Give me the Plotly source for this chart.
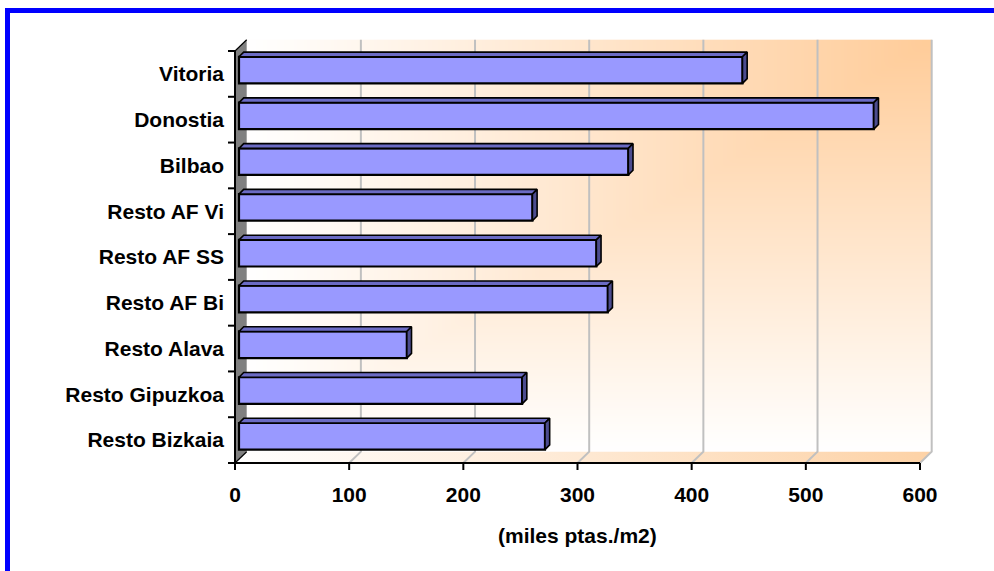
import numpy as np
import plotly.graph_objects as go

# --- data -------------------------------------------------------------
categorias = ["Vitoria", "Donostia", "Bilbao", "Resto AF Vi", "Resto AF SS",
              "Resto AF Bi", "Resto Alava", "Resto Gipuzkoa", "Resto Bizkaia"]
precios = [441, 556, 341, 257, 313, 323, 147, 248, 268]
x_ticks = [0, 100, 200, 300, 400, 500, 600]
titulo_x = "(miles ptas./m2)"

# --- geometry (pixels of the 994x571 canvas) ---------------------------
W_PX, H_PX = 994, 571
L, R, T, B = 226, 945, 30, 472          # plot area
X0_PX, X600_PX = 235, 920               # front axis: value 0 and 600
Y_BOT_PX, Y_TOP_PX = 463, 51            # front edge of category bands
n = len(categorias)
sx = (X600_PX - X0_PX) / 600.0          # px per value unit
sy = (Y_BOT_PX - Y_TOP_PX) / n          # px per category unit

x_range = [(L - X0_PX) / sx, (R - X0_PX) / sx]
y_range = [-0.5 - (B - Y_BOT_PX) / sy, -0.5 + (Y_BOT_PX - T) / sy]
x_dom = [L / W_PX, R / W_PX]
y_dom = [(H_PX - B) / H_PX, (H_PX - T) / H_PX]

# oblique depth of the 3-D box
DX, DY = 11.7 / sx, 11.3 / sy
# bars: front face offset and box depth
FX = 4.0 / sx
FY = 3.8 / sy
HALF = 13.3 / sy
BDX, BDY = 4.7 / sx, 4.7 / sy
OFF, WID = FY - HALF, 2 * HALF

pos = [n - 1 - i for i in range(n)]
ybot, ytop = -0.5, n - 0.5

PEACH = "#FFCC99"
FONT = dict(family="Liberation Sans, Arial, sans-serif", size=21,
            color="black", weight="bold")

fig = go.Figure()

# back wall with a corner gradient
N = 48
xe = np.linspace(DX, 600 + DX, N + 1)
ye = np.linspace(ybot + DY, ytop + DY, N + 1)
xc = (xe[:-1] + xe[1:]) / 2
yc = (ye[:-1] + ye[1:]) / 2
gx = (600 + DX - xc) / 600.0
gy = (ytop + DY - yc) / (ytop - ybot)
z = np.maximum(gx[None, :], gy[:, None])
fig.add_trace(go.Heatmap(x=xe, y=ye, z=z, zmin=0, zmax=1, zsmooth="best",
                         colorscale=[[0, PEACH], [1, "#FFFFFF"]],
                         showscale=False, hoverinfo="skip"))

# floor
fig.add_trace(go.Scatter(
    x=[0, 600, 600 + DX, DX, 0], y=[ybot, ybot, ybot + DY, ybot + DY, ybot],
    mode="lines", line=dict(width=0), fill="toself",
    fillgradient=dict(type="horizontal",
                      colorscale=[[0, "#FFFFFF"], [1, "#FDD2A6"]]),
    hoverinfo="skip", showlegend=False))

# gridlines on back wall and floor
gxs, gys = [], []
for v in x_ticks[1:]:
    gxs += [v, v + DX, v + DX, None]
    gys += [ybot, ybot + DY, ytop + DY, None]
fig.add_trace(go.Scatter(x=gxs, y=gys, mode="lines",
                         line=dict(color="#C0C0C0", width=2),
                         hoverinfo="skip", showlegend=False))

# left wall
fig.add_trace(go.Scatter(
    x=[0, DX, DX, 0, 0], y=[ybot, ybot + DY, ytop + DY, ytop, ybot],
    mode="lines", line=dict(width=0), fill="toself", fillcolor="#808080",
    hoverinfo="skip", showlegend=False))
fig.add_trace(go.Scatter(
    x=[0, DX, None, 0, DX], y=[ytop, ytop + DY, None, ybot, ybot + DY],
    mode="lines", line=dict(color="black", width=1.2),
    hoverinfo="skip", showlegend=False))

# axis lines and tick marks
tick_x, tick_y = 7 / sx, 7 / sy
ax_x = [0, 0, None, 0, 600, None]
ax_y = [ytop, ybot, None, ybot, ybot, None]
fig.add_trace(go.Scatter(x=ax_x, y=ax_y, mode="lines",
                         line=dict(color="black", width=2),
                         hoverinfo="skip", showlegend=False))
tk_x, tk_y = [], []
for v in x_ticks:
    tk_x += [v, v, None]
    tk_y += [ybot, ybot - tick_y, None]
for k in range(n + 1):
    b = -0.5 + k
    tk_x += [0, -tick_x, None]
    tk_y += [b, b, None]
fig.add_trace(go.Scatter(x=tk_x, y=tk_y, mode="lines",
                         line=dict(color="black", width=2),
                         hoverinfo="skip", showlegend=False))

# bars (overlay subplot so they sit above the walls and gridlines)
fig.add_trace(go.Bar(
    y=pos, x=precios, base=FX, offset=OFF, width=WID, orientation="h",
    marker=dict(color="#9999FF", line=dict(color="black", width=2.2)),
    xaxis="x2", yaxis="y2", hoverinfo="skip", showlegend=False))

top_x, top_y, side_x, side_y = [], [], [], []
for p, v in zip(pos, precios):
    x0, x1 = FX, v + FX
    yb, yt = p + OFF, p + OFF + WID
    top_x += [x0, x1, x1 + BDX, x0 + BDX, x0, None]
    top_y += [yt, yt, yt + BDY, yt + BDY, yt, None]
    side_x += [x1, x1 + BDX, x1 + BDX, x1, x1, None]
    side_y += [yb, yb + BDY, yt + BDY, yt, yb, None]
fig.add_trace(go.Scatter(x=top_x, y=top_y, mode="lines", fill="toself",
                         fillcolor="#6B6BC4",
                         line=dict(color="black", width=1.6),
                         xaxis="x2", yaxis="y2",
                         hoverinfo="skip", showlegend=False))
fig.add_trace(go.Scatter(x=side_x, y=side_y, mode="lines", fill="toself",
                         fillcolor="#4C4C8F",
                         line=dict(color="black", width=1.6),
                         xaxis="x2", yaxis="y2",
                         hoverinfo="skip", showlegend=False))

fig.update_layout(
    width=W_PX, height=H_PX, margin=dict(l=0, r=0, t=0, b=0),
    paper_bgcolor="white", plot_bgcolor="rgba(0,0,0,0)",
    showlegend=False, barmode="overlay",
    xaxis=dict(domain=x_dom, range=x_range, tickmode="array",
               tickvals=x_ticks, ticktext=[str(v) for v in x_ticks],
               ticks="", showgrid=False, zeroline=False, showline=False,
               tickfont=FONT, ticklabelstandoff=8, fixedrange=True),
    yaxis=dict(domain=y_dom, range=y_range, tickmode="array",
               tickvals=pos, ticktext=categorias, ticks="",
               showgrid=False, zeroline=False, showline=False,
               tickfont=FONT, ticklabelstandoff=1, fixedrange=True),
    xaxis2=dict(overlaying="x", range=x_range, visible=False,
                anchor="y2", fixedrange=True),
    yaxis2=dict(overlaying="y", range=y_range, visible=False,
                anchor="x2", fixedrange=True),
    annotations=[dict(text=titulo_x, x=577 / W_PX, y=(H_PX - 535) / H_PX,
                      xref="paper", yref="paper", xanchor="center",
                      yanchor="middle", showarrow=False, font=FONT)],
    shapes=[
        dict(type="rect", xref="paper", yref="paper", layer="above",
             x0=5 / W_PX, x1=1, y0=(H_PX - 13) / H_PX, y1=(H_PX - 8) / H_PX,
             fillcolor="#0000FF", line=dict(width=0)),
        dict(type="rect", xref="paper", yref="paper", layer="above",
             x0=5 / W_PX, x1=10 / W_PX, y0=0, y1=(H_PX - 8) / H_PX,
             fillcolor="#0000FF", line=dict(width=0)),
    ],
)

fig.write_html("out.html")
